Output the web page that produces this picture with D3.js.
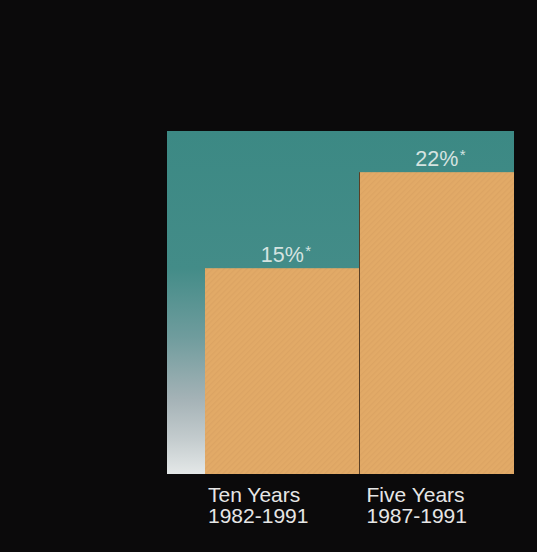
<!DOCTYPE html>
<html><head><meta charset="utf-8">
<script src="https://cdn.jsdelivr.net/npm/d3@7"></script>
<style>
html,body{margin:0;padding:0;background:#0b0a0b;}
svg{display:block;}
</style></head>
<body>
<svg id="chart" width="537" height="552"></svg>
<script>
const categories = ["Ten Years", "Five Years"];
const periods = ["1982-1991", "1987-1991"];
const values = [15, 22];
const valueLabels = ["15%", "22%"];
const footnoteMark = "*";

const W = 537, H = 552;
const svg = d3.select("#chart");
svg.append("rect").attr("width", W).attr("height", H).attr("fill", "#0b0a0b");

const y = d3.scaleLinear().domain([0, 25]).range([474, 131]);
const x = d3.scaleBand().domain(categories).range([205, 514]).padding(0);
const panelLeft = 167;

const defs = svg.append("defs");
const grad = defs.append("linearGradient").attr("id", "bg").attr("x1", 0).attr("y1", 0).attr("x2", 0).attr("y2", 1);
[[0, "#3c8984"], [0.4, "#438c88"], [0.6, "#6f9c9d"], [0.78, "#a4b2b6"], [0.9, "#c4ccce"], [1, "#e4e8e8"]]
  .forEach(([o, c]) => grad.append("stop").attr("offset", o).attr("stop-color", c));

const pat = defs.append("pattern").attr("id", "tex").attr("width", 4).attr("height", 4)
  .attr("patternUnits", "userSpaceOnUse").attr("patternTransform", "rotate(45)");
pat.append("rect").attr("width", 4).attr("height", 4).attr("fill", "#e2aa67");
pat.append("rect").attr("width", 1.3).attr("height", 4).attr("fill", "#d9a060").attr("opacity", 0.6);

svg.append("rect")
  .attr("x", panelLeft).attr("y", y(25))
  .attr("width", x.range()[1] - panelLeft).attr("height", y(0) - y(25))
  .attr("fill", "url(#bg)");

svg.selectAll("rect.bar").data(values).join("rect")
  .attr("class", "bar")
  .attr("x", (d, i) => x(categories[i]))
  .attr("y", d => y(d))
  .attr("width", x.bandwidth())
  .attr("height", d => y(0) - y(d))
  .attr("fill", "url(#tex)");

// divider between bars
svg.append("line")
  .attr("x1", x(categories[1])).attr("x2", x(categories[1]))
  .attr("y1", y(values[1])).attr("y2", y(0))
  .attr("stroke", "#5a3f24").attr("stroke-width", 1);

const font = "'Liberation Sans', Arial, Helvetica, sans-serif";

values.forEach((v, i) => {
  const cx = x(categories[i]) + x.bandwidth() / 2;
  const t = svg.append("text")
    .attr("x", cx).attr("y", y(v) - 6)
    .attr("text-anchor", "middle")
    .attr("font-family", font).attr("font-size", 21.5)
    .attr("fill", "#d5e3e0")
    .text(valueLabels[i]);
  const w = t.node().getComputedTextLength();
  svg.append("text")
    .attr("x", cx + w / 2 + 1.5).attr("y", y(v) - 6 - 6)
    .attr("font-family", font).attr("font-size", 15)
    .attr("fill", "#d5e3e0")
    .text(footnoteMark);
});

categories.forEach((c, i) => {
  const lx = x(c) + (i === 0 ? 3 : 7);
  const t = svg.append("text")
    .attr("x", lx).attr("y", 502)
    .attr("font-family", font).attr("font-size", 21)
    .attr("fill", "#e6e6e6");
  t.append("tspan").attr("x", lx).text(c);
  t.append("tspan").attr("x", lx).attr("dy", 21).text(periods[i]);
});
</script>
</body></html>
